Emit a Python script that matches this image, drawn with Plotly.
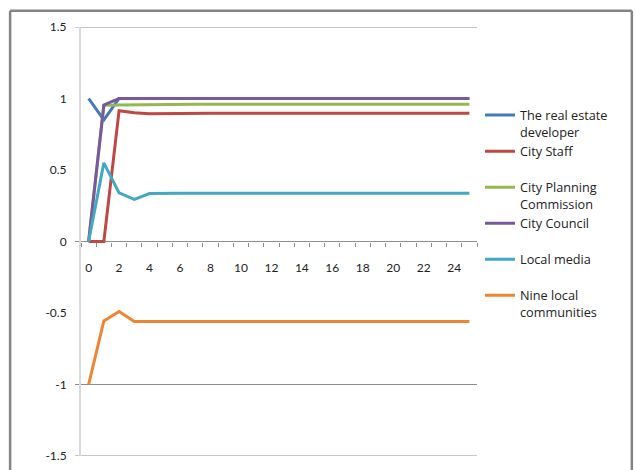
import plotly.graph_objects as go

periods = list(range(26))

developer = [1.0, 0.85, 1.0, 1.0, 1.0, 1.0, 1.0, 1.0, 1.0, 1.0, 1.0, 1.0, 1.0,
             1.0, 1.0, 1.0, 1.0, 1.0, 1.0, 1.0, 1.0, 1.0, 1.0, 1.0, 1.0, 1.0]
city_staff = [0.0, 0.0, 0.915, 0.9, 0.893, 0.895, 0.897, 0.897, 0.897, 0.897, 0.897, 0.897, 0.897,
              0.897, 0.897, 0.897, 0.897, 0.897, 0.897, 0.897, 0.897, 0.897, 0.897, 0.897, 0.897, 0.897]
planning = [0.0, 0.952, 0.955, 0.957, 0.959, 0.96, 0.96, 0.96, 0.96, 0.96, 0.96, 0.96, 0.96,
            0.96, 0.96, 0.96, 0.96, 0.96, 0.96, 0.96, 0.96, 0.96, 0.96, 0.96, 0.96, 0.96]
council = [0.0, 0.955, 1.0, 1.0, 1.0, 1.0, 1.0, 1.0, 1.0, 1.0, 1.0, 1.0, 1.0,
           1.0, 1.0, 1.0, 1.0, 1.0, 1.0, 1.0, 1.0, 1.0, 1.0, 1.0, 1.0, 1.0]
media = [0.0, 0.55, 0.34, 0.295, 0.335, 0.338, 0.338, 0.338, 0.338, 0.338, 0.338, 0.338, 0.338,
         0.338, 0.338, 0.338, 0.338, 0.338, 0.338, 0.338, 0.338, 0.338, 0.338, 0.338, 0.338, 0.338]
communities = [-1.0, -0.555, -0.49, -0.56, -0.56, -0.56, -0.56, -0.56, -0.56, -0.56, -0.56, -0.56, -0.56,
               -0.56, -0.56, -0.56, -0.56, -0.56, -0.56, -0.56, -0.56, -0.56, -0.56, -0.56, -0.56, -0.56]

series_names = ["The real estate<br>developer", "City Staff<br> ", "City Planning<br>Commission",
                "City Council<br> ", "Local media<br> ", "Nine local<br>communities"]
series_values = [developer, city_staff, planning, council, media, communities]
series_colors = ["#4578B9", "#BD4844", "#93B852", "#775A9E", "#42A8C4", "#EE8533"]

x_tick_vals = [0, 2, 4, 6, 8, 10, 12, 14, 16, 18, 20, 22, 24]
y_tick_vals = [1.5, 1, 0.5, 0, -0.5, -1, -1.5]
y_tick_text = ["1.5", "1", "0.5", "0", "-0.5", "-1", "-1.5"]
grid_levels = [1.5, -1, -1.5]

FONT = "Lato"
LEGEND_FONT = "Open Sans"

fig = go.Figure()
for name, vals, col in zip(series_names, series_values, series_colors):
    fig.add_trace(go.Scatter(x=periods, y=vals, mode="lines", name=name,
                             line=dict(color=col, width=3)))

shapes = []
for g in grid_levels + [0]:
    shapes.append(dict(type="line", xref="paper", yref="y", x0=-0.015, x1=1.0, y0=g, y1=g,
                       line=dict(color="#8c8c8c", width=1), layer="below"))
# outer chart frame (left, top, right edges; bottom lies below the picture)
frame_col = dict(color="#848484", width=2.5)
shapes.append(dict(type="line", xref="paper", yref="paper", x0=-0.179, x1=-0.179, y0=-0.06, y1=1.038, line=frame_col))
shapes.append(dict(type="line", xref="paper", yref="paper", x0=1.391, x1=1.391, y0=-0.06, y1=1.038, line=frame_col))
shapes.append(dict(type="line", xref="paper", yref="paper", x0=-0.179, x1=1.391, y0=1.038, y1=1.038, line=frame_col))

fig.update_layout(
    width=636, height=470,
    margin=dict(l=81, r=159, t=27, b=14, autoexpand=False),
    paper_bgcolor="white", plot_bgcolor="white",
    font=dict(family=FONT, size=12, color="#222"),
    showlegend=True,
    legend=dict(x=1.0076, xanchor="left", y=0.829, yanchor="top", valign="top",
                itemwidth=30, font=dict(family=LEGEND_FONT, size=12.7, color="#222"),
                bgcolor="rgba(0,0,0,0)", tracegroupgap=0),
    xaxis=dict(range=[-0.5, 25.5], tickmode="array", tickvals=x_tick_vals,
               showgrid=False, zeroline=False, showline=False, automargin=False,
               anchor="free", position=0.5, ticks="", ticklabelstandoff=17,
               minor=dict(tickmode="linear", tick0=-0.5, dtick=1, ticks="outside",
                          ticklen=4, tickcolor="#8c8c8c", showgrid=False),
               tickfont=dict(family=FONT, size=12, color="#222")),
    yaxis=dict(range=[-1.5, 1.5], tickmode="array", tickvals=y_tick_vals, ticktext=y_tick_text,
               showgrid=False, zeroline=False, showline=True, linecolor="#d9d9d9", linewidth=2,
               ticks="", ticklabelstandoff=10, automargin=False,
               tickfont=dict(family=FONT, size=12, color="#222")),
    shapes=shapes,
)

fig.write_html("out.html", config={"displayModeBar": False},
               post_script="document.body.style.margin='0';document.body.style.overflow='hidden';")
